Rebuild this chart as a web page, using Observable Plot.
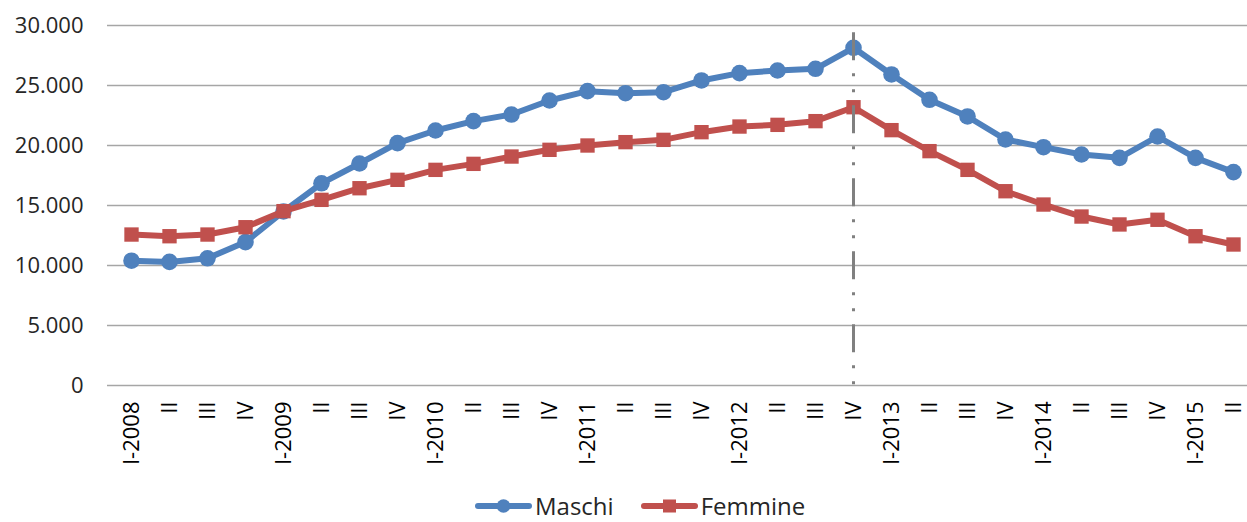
<!DOCTYPE html>
<html><head><meta charset="utf-8">
<script src="https://cdn.jsdelivr.net/npm/d3@7"></script>
<script src="https://cdn.jsdelivr.net/npm/@observablehq/plot@0.6"></script>
<style>
body{margin:0;background:#fff;font-family:"Open Sans",sans-serif;overflow:hidden;}
#legend{display:flex;align-items:center;height:26px;line-height:26px;margin-top:23px;padding-left:475px;font-size:24px;color:#262626;}
#legend svg{display:block;}
#legend .txt{margin-left:3px;}
#legend .gap{width:27px;}
</style></head><body>
<div id="chart"></div>
<div id="legend"></div>
<script>
const years = [2008, 2009, 2010, 2011, 2012, 2013, 2014, 2015];
const romans = ["I", "II", "III", "IV"];
const periods = years.flatMap(y => romans.map(r => `${r}-${y}`)).slice(0, 30);
const tickLabels = periods.map(p => p.startsWith("I-") ? p : p.split("-")[0]);
const maschi = [10400,10300,10600,11950,14500,16850,18500,20200,21250,22030,22580,23750,24530,24360,24440,25420,26030,26250,26390,28140,25920,23810,22420,20500,19860,19250,18970,20750,18970,17780];
const femmine = [12580,12440,12580,13190,14530,15470,16440,17140,17970,18470,19080,19640,20000,20280,20470,21110,21580,21720,22030,23190,21280,19530,17970,16190,15080,14080,13420,13810,12440,11750];
const yTicks = [0, 5000, 10000, 15000, 20000, 25000, 30000];
const refPeriod = "IV-2012";
const seriesNames = ["Maschi", "Femmine"];
const colors = ["#4F81BD", "#C0504D"];

const labelMap = new Map(periods.map((p, i) => [p, tickLabels[i]]));
const dataM = periods.map((p, i) => ({period: p, value: maschi[i]}));
const dataF = periods.map((p, i) => ({period: p, value: femmine[i]}));
const fmt = d => d3.format(",")(d).replace(/,/g, ".");

const chart = Plot.plot({
  width: 1247, height: 470,
  marginLeft: 107, marginRight: 0, marginTop: 25, marginBottom: 85,
  style: {fontFamily: "Open Sans", fontSize: "22px", color: "#262626", background: "#fff", overflow: "visible"},
  x: {type: "point", domain: periods, padding: 0, insetLeft: 20, insetRight: 10},
  y: {domain: [0, 30000]},
  marks: [
    Plot.ruleY(yTicks, {stroke: "#a6a6a6", strokeWidth: 1.3}),
    Plot.axisY({ticks: yTicks, tickSize: 0, tickPadding: 24, tickFormat: fmt, label: null}),
    Plot.axisX({tickSize: 0, tickPadding: 16, tickRotate: -90, tickFormat: d => labelMap.get(d), label: null, fill: "#000"}),
    Plot.line(dataM, {x: "period", y: "value", stroke: colors[0], strokeWidth: 6, strokeLinejoin: "round"}),
    Plot.dot(dataM, {x: "period", y: "value", r: 8.3, fill: colors[0], stroke: null}),
    Plot.line(dataF, {x: "period", y: "value", stroke: colors[1], strokeWidth: 6, strokeLinejoin: "round"}),
    Plot.dot(dataF, {x: "period", y: "value", r: 8.1, symbol: "square", fill: colors[1], stroke: null}),
    Plot.ruleX([refPeriod], {y1: 29400, y2: 0, stroke: "#808080", strokeWidth: 3, strokeDasharray: "28,13,3,13,3,13"})
  ]
});
document.getElementById("chart").append(chart);

const legend = document.getElementById("legend");
seriesNames.forEach((name, i) => {
  if (i > 0) { const g = document.createElement("span"); g.className = "gap"; legend.append(g); }
  const ns = "http://www.w3.org/2000/svg";
  const svg = document.createElementNS(ns, "svg");
  svg.setAttribute("width", 57); svg.setAttribute("height", 16);
  const line = document.createElementNS(ns, "line");
  line.setAttribute("x1", 3); line.setAttribute("x2", 54); line.setAttribute("y1", 8); line.setAttribute("y2", 8);
  line.setAttribute("stroke", colors[i]); line.setAttribute("stroke-width", 6); line.setAttribute("stroke-linecap", "round");
  svg.append(line);
  if (i === 0) {
    const c = document.createElementNS(ns, "circle");
    c.setAttribute("cx", 28.5); c.setAttribute("cy", 8); c.setAttribute("r", 6.8); c.setAttribute("fill", colors[i]);
    svg.append(c);
  } else {
    const r = document.createElementNS(ns, "rect");
    r.setAttribute("x", 22); r.setAttribute("y", 1.5); r.setAttribute("width", 13); r.setAttribute("height", 13); r.setAttribute("fill", colors[i]);
    svg.append(r);
  }
  legend.append(svg);
  const t = document.createElement("span"); t.className = "txt"; t.textContent = name;
  legend.append(t);
});
</script>
</body></html>
